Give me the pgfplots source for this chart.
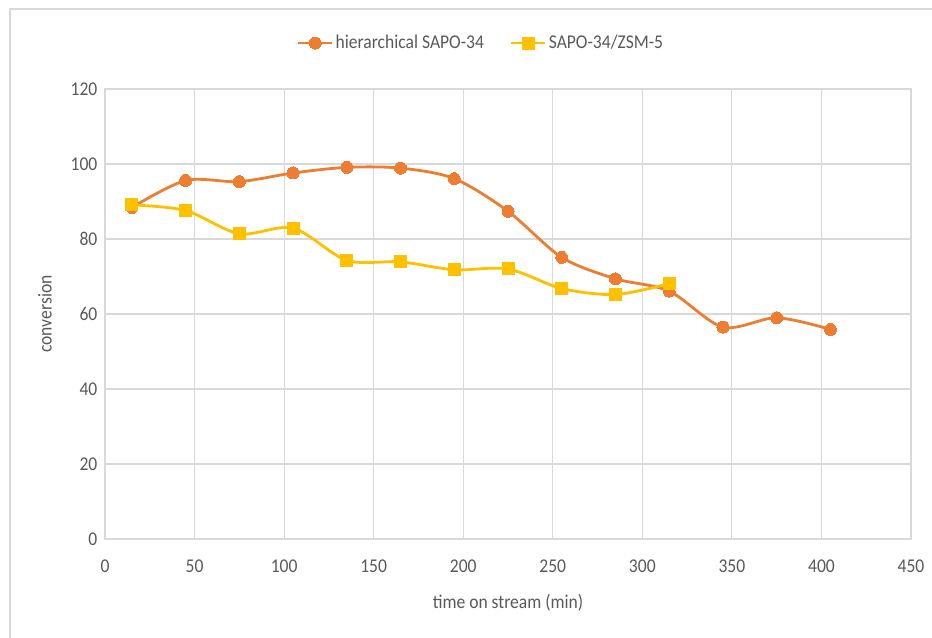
\documentclass[border=0pt]{standalone}
\usepackage{pgfplots}
\pgfplotsset{compat=1.18}
\usepackage{fontspec}
\setmainfont{Carlito}[FakeStretch=0.9]
\definecolor{serOrange}{HTML}{ED7D31}
\definecolor{serYellow}{HTML}{FFC000}
\definecolor{gridGray}{HTML}{D9D9D9}
\definecolor{axisGray}{HTML}{BFBFBF}
\definecolor{textGray}{HTML}{595959}
\definecolor{frameGray}{HTML}{D9D9D9}
\newcommand{\chartfont}{\fontsize{19.5bp}{22bp}\selectfont}

\begin{document}
\chartfont
\begin{tikzpicture}
	\path[use as bounding box] (0,0) rectangle (932bp,638bp);
	\draw[frameGray, line width=1.2bp] (10bp,0) -- (10bp,629bp) -- (932bp,629bp);
	\begin{axis}[
			at={(105bp,99bp)},
			anchor=south west,
			scale only axis,
			width=806bp,
			height=450bp,
			xmin=0, xmax=450,
			ymin=0, ymax=120,
			xtick={0,50,...,450},
			ytick={0,20,...,120},
			major tick length=0pt,
			grid=major,
			grid style={gridGray, line width=1.2bp},
			axis line style={gridGray, line width=1.2bp},
			every outer x axis line/.append style={axisGray},
			tick label style={font=\chartfont, text=textGray},
			/pgf/number format/assume math mode=true,
			xticklabel style={yshift=-14bp},
			yticklabel style={xshift=-1bp},
			xlabel={time on stream (min)},
			ylabel={conversion},
			label style={font=\chartfont, text=textGray},
			xlabel style={at={(axis description cs:0.5,-0.142)}, anchor=center},
			ylabel style={at={(axis description cs:-0.0744,0.5)}, anchor=center, rotate=0},
			legend style={at={(0.4665,1.102)}, anchor=center, draw=none, fill=none,
					legend columns=-1, font=\chartfont, text=textGray,
					/tikz/every even column/.append style={column sep=24bp}},
			legend image code/.code={
					\draw[#1, mark repeat=2, mark phase=2] plot coordinates {(0cm,0cm) (0.6cm,0cm) (1.2cm,0cm)};
				},
			every axis plot/.append style={line width=2.8bp, smooth, tension=0.5},
		]
		\addplot[serOrange, mark=*, mark size=6bp, mark options={fill=serOrange, draw=serOrange, line width=0pt}]
		coordinates {(15,88.4) (45,95.6) (75,95.3) (105,97.6) (135,99.1) (165,98.9) (195,96.1) (225,87.4) (255,75.1) (285,69.4) (315,66.1) (345,56.5) (375,59.0) (405,55.9)};
		\addplot[serYellow, mark=square*, mark size=6bp, mark options={fill=serYellow, draw=serYellow, line width=0pt}]
		coordinates {(15,89.1) (45,87.6) (75,81.4) (105,82.9) (135,74.3) (165,73.9) (195,71.8) (225,72.0) (255,66.8) (285,65.2) (315,68.1)};
		\legend{hierarchical SAPO-34, SAPO-34/ZSM-5}
	\end{axis}
\end{tikzpicture}
\end{document}
